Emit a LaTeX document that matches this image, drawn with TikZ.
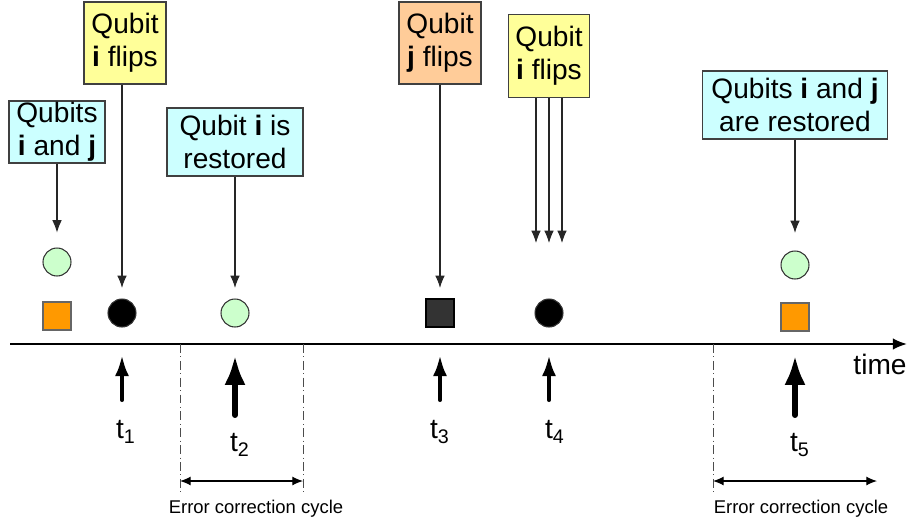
\documentclass[tikz,border=0pt]{standalone}
\usepackage{fontspec}
\setmainfont{Liberation Sans}
\usetikzlibrary{arrows.meta}
\definecolor{NoteClr}{HTML}{CCFFFF}
\definecolor{FlipClr}{HTML}{FFFF99}
\definecolor{JFlipClr}{HTML}{FFCC99}
\definecolor{OkClr}{HTML}{CCFFCC}
\definecolor{QjClr}{HTML}{FF9900}
\definecolor{BadQjClr}{HTML}{333333}

\begin{document}
\begin{tikzpicture}[x=0.02cm,y=-0.02cm,
  box/.style={draw=black!75,line width=0.6pt,align=center,inner sep=0pt,
    font=\fontsize{16}{18.7}\selectfont},
  qi/.style={circle,draw=black!80,line width=0.6pt,minimum size=0.56cm,inner sep=0pt},
  qj/.style={rectangle,draw=black!60,line width=0.6pt,minimum size=0.56cm,inner sep=0pt},
  pointer/.style={-{Latex[length=7pt,width=5.5pt]},line width=0.6pt,black!85},
  hit/.style={-{Latex[length=12pt,width=8pt]},line width=2.3pt,line cap=round},
  bighit/.style={-{Latex[length=17pt,width=12pt]},line width=3.4pt,line cap=round},
  cyclemark/.style={dash pattern=on 5pt off 2pt on 0.6pt off 2pt,line width=0.5pt,black!70},
  cyclespan/.style={{Latex[length=6pt,width=5pt]}-{Latex[length=6pt,width=5pt]},line width=0.6pt},
  tlabel/.style={font=\fontsize{16}{18}\selectfont},
  cyclelabel/.style={font=\fontsize{10.5}{12}\selectfont}]
\useasboundingbox (0,0) rectangle (907,525);

% note boxes
\node[box,fill=NoteClr,minimum width=1.92cm,minimum height=1.24cm] (pairA) at (57,132) {Qubits\\\textbf{i} and \textbf{j}};
\node[box,fill=FlipClr,minimum width=1.64cm,minimum height=1.64cm] (flipA) at (125,43) {Qubit\\\textbf{i} flips};
\node[box,fill=NoteClr,minimum width=2.72cm,minimum height=1.36cm] (restA) at (235,142) {Qubit \textbf{i} is\\restored};
\node[box,fill=JFlipClr,minimum width=1.64cm,minimum height=1.64cm] (flipJ) at (440,43) {Qubit\\\textbf{j} flips};
\node[box,fill=FlipClr,minimum width=1.62cm,minimum height=1.66cm] (flipB) at (549,56) {Qubit\\\textbf{i} flips};
\node[box,fill=NoteClr,minimum width=3.7cm,minimum height=1.36cm] (restB) at (795,105) {Qubits \textbf{i} and \textbf{j}\\are restored};

% qubit states
\node[qi,fill=OkClr] (qi0) at (57,262) {};
\node[qj,fill=QjClr] (qj0) at (57,316) {};
\node[qi,fill=black] (qi1) at (122,313) {};
\node[qi,fill=OkClr] (qi2) at (235,313) {};
\node[qj,fill=BadQjClr,draw=black] (qj3) at (440,313) {};
\node[qi,fill=black] (qi4) at (549,313) {};
\node[qi,fill=OkClr] (qi5) at (795,265) {};
\node[qj,fill=QjClr] (qj5) at (795,317) {};

\draw[pointer,shorten >=8.5pt] (pairA) -- (qi0);
\draw[pointer,shorten >=6pt] (flipA.south -| qi1) -- (qi1);
\draw[pointer,shorten >=6pt] (restA) -- (qi2);
\draw[pointer,shorten >=6pt] (flipJ) -- (qj3);
\draw[pointer,shorten >=10pt] (restB) -- (qi5);
\coordinate (h1) at (536,243);
\coordinate (h2) at (549,243);
\coordinate (h3) at (562,243);
\draw[pointer] (flipB.south -| h1) -- (h1);
\draw[pointer] (flipB.south -| h2) -- (h2);
\draw[pointer] (flipB.south -| h3) -- (h3);

% time axis
\coordinate (axL) at (10,344);
\coordinate (axR) at (907,344);
\draw[-{Latex[length=8pt,width=6.5pt]},line width=1.1pt] (axL) -- (axR);
\node[tlabel] (time) at (880,364) {time};

% moments
\coordinate (s1) at (122,400); \coordinate (e1) at (122,355);
\coordinate (s2) at (235,415); \coordinate (e2) at (235,355);
\coordinate (s3) at (440,400); \coordinate (e3) at (440,355);
\coordinate (s4) at (549,400); \coordinate (e4) at (549,355);
\coordinate (s5) at (795,415); \coordinate (e5) at (795,355);
\draw[hit] (s1) -- (e1);
\draw[bighit] (s2) -- (e2);
\draw[hit] (s3) -- (e3);
\draw[hit] (s4) -- (e4);
\draw[bighit] (s5) -- (e5);
\node[tlabel] (t1) at (126,432) {t\textsubscript{1}};
\node[tlabel] (t2) at (240,445) {t\textsubscript{2}};
\node[tlabel] (t3) at (440,432) {t\textsubscript{3}};
\node[tlabel] (t4) at (555,432) {t\textsubscript{4}};
\node[tlabel] (t5) at (800,445) {t\textsubscript{5}};

% correction cycles
\coordinate (c1a) at (180,344); \coordinate (c1b) at (180,495);
\coordinate (c2a) at (303,344); \coordinate (c2b) at (303,495);
\coordinate (c3a) at (713,344); \coordinate (c3b) at (713,495);
\draw[cyclemark] (c1a) -- (c1b);
\draw[cyclemark] (c2a) -- (c2b);
\draw[cyclemark] (c3a) -- (c3b);
\coordinate (d1) at (180,481); \coordinate (d2) at (303,481);
\coordinate (d3) at (713,481); \coordinate (d4) at (877,481);
\draw[cyclespan] (d1) -- (d2);
\draw[cyclespan] (d3) -- (d4);
\node[cyclelabel] (cyc1) at (256,509) {Error correction cycle};
\node[cyclelabel] (cyc2) at (801,509) {Error correction cycle};
\end{tikzpicture}
\end{document}
